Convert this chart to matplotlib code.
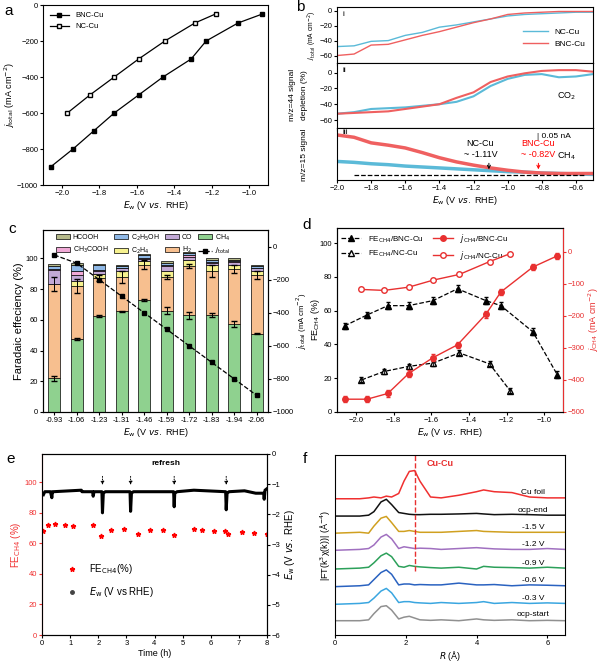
import matplotlib
matplotlib.use("Agg")
import matplotlib.pyplot as plt
import numpy as np

plt.rcParams.update({"font.family": "Liberation Sans", "font.size": 5.5,
                     "xtick.direction": "out", "ytick.direction": "out",
                     "xtick.major.size": 2, "ytick.major.size": 2, "axes.linewidth": 0.8,
                     "xtick.major.pad": 1.5, "ytick.major.pad": 1.5, "axes.labelpad": 1.5})

# ---- data ----
E_bnc = [-2.06, -1.94, -1.83, -1.72, -1.59, -1.46, -1.31, -1.23, -1.06, -0.93]
j_bnc = [-900, -800, -700, -600, -500, -400, -300, -200, -100, -50]
E_nc = [-1.97, -1.85, -1.72, -1.59, -1.45, -1.29, -1.18]
j_nc = [-600, -500, -400, -300, -200, -100, -50]

b_x = [-2.0, -1.9, -1.8, -1.7, -1.6, -1.5, -1.4, -1.3, -1.2, -1.1, -1.0, -0.9, -0.8, -0.7, -0.6, -0.5]
bi_nc = [-48, -47, -41, -40, -33, -29, -22, -19, -15, -11, -7, -5, -4, -3, -2, -2]
bi_bnc = [-60, -58, -46, -45, -39, -33, -28, -22, -16, -11, -5, -3, -2, -1, -1, -1]
bii_nc = [-52, -50, -46, -45, -44, -42, -40, -37, -30, -17, -8, -3, -2, -6, -5, -2]
bii_bnc = [-52, -51, -50, -49, -46, -43, -40, -32, -25, -12, -5, -1, 2, 3, 3, 1]
biii_nc = [0.28, 0.26, 0.23, 0.21, 0.18, 0.16, 0.14, 0.12, 0.10, 0.08, 0.06, 0.05, 0.03, 0.02, 0.01, 0.0]
biii_bnc = [0.85, 0.8, 0.68, 0.63, 0.57, 0.47, 0.36, 0.27, 0.2, 0.14, 0.09, 0.05, 0.03, 0.02, 0.02, 0.02]

c_cats = ["-0.93", "-1.06", "-1.23", "-1.31", "-1.46", "-1.59", "-1.72", "-1.83", "-1.94", "-2.06"]
fe_ch4 = [22, 47.5, 62.5, 65.5, 73, 66, 63, 63, 57.5, 51]
fe_h2 = [61.5, 34.5, 24.5, 22.5, 23, 22, 32, 29, 35.5, 38]
fe_c2h4 = [0, 3, 3, 3.5, 2, 4, 4, 3.5, 3, 3]
fe_co = [9, 4, 2, 2, 1.5, 3, 2, 1.5, 1.5, 1.5]
fe_ch3cooh = [0.5, 3, 0.5, 0.5, 0.5, 0.5, 1, 0.5, 0.5, 0.5]
fe_c2h5oh = [2, 4, 3, 1, 2, 1.5, 1.5, 1.5, 1, 1]
fe_hcooh = [1.5, 1, 1, 1, 1, 1, 1, 1.5, 1, 1]
err_ch4 = [1.5, 0.8, 0.5, 0.5, 0.8, 2.5, 2.2, 1.2, 2, 0.5]
err_h2 = [4.5, 4.5, 2, 4, 3, 1.5, 1.5, 4, 2.5, 2.5]
j_total_c = [-50, -100, -200, -300, -400, -500, -600, -700, -800, -900]

d_fe_bnc = [51, 57.5, 63, 63, 66, 73, 66, 63, 47.5, 22]
d_fe_nc = [19, 24, 27, 29, 35, 28.5, 12.5]
d_j_bnc = [-460, -460, -442, -380, -330, -290, -195, -125, -47, -12]
d_j_nc = [-117, -120, -110, -88, -70, -30, -5]

e_t = [0.05, 0.2, 0.45, 0.8, 1.1, 1.8, 2.1, 2.45, 2.9, 3.4, 3.85, 4.3, 4.7, 5.4, 5.7, 6.1, 6.5, 6.6, 7.1, 7.55, 8.0]
e_fe = [68, 72, 72.5, 72, 71.5, 72, 65, 69, 69.5, 66, 68.5, 68.5, 65.5, 69.5, 68.5, 68, 68, 66, 67.5, 67, 66.5]
e_tw = [0.05, 0.1, 0.3, 0.35, 0.37, 0.4, 1.4, 1.42, 1.8, 1.82, 1.85, 2.13, 2.15, 2.18, 2.25, 3.13, 3.15, 3.18, 3.25,
        4.68, 4.7, 4.72, 4.8, 5.4, 6.53, 6.55, 6.58, 6.65, 7.2, 7.6, 7.88, 7.9, 7.93, 8.0]
e_ew = [-1.35, -1.25, -1.25, -1.45, -1.25, -1.25, -1.2, -1.25, -1.25, -1.4, -1.25, -1.25, -1.95, -1.3, -1.25, -1.25, -1.9, -1.3, -1.25,
        -1.25, -1.75, -1.3, -1.25, -1.2, -1.25, -1.85, -1.3, -1.25, -1.22, -1.3, -1.3, -1.5, -1.2, -1.15]
refresh_t = [2.15, 3.15, 4.7, 6.55]

f_R = [0, 0.7, 0.95, 1.1, 1.3, 1.45, 1.6, 1.8, 1.95, 2.1, 2.25, 2.4, 2.7, 3.0, 3.5, 4.0, 4.2, 4.5, 5.0, 5.5, 6.0, 6.5]
f_labels = ["ocp-start", "-0.3 V", "-0.6 V", "-0.9 V", "-1.2 V", "-1.5 V", "ocp-end", "Cu foil"]
f_colors = ["#909090", "#3aa6e0", "#2a62c0", "#2ca05a", "#a070c0", "#d0a020", "#111111", "#f03030"]
f_base = [0.81, 1.74, 2.74, 3.74, 4.8, 5.77, 6.74, 7.72]
f_curves = [
    [0, 0, 0.05, 0.4, 0.8, 0.85, 0.6, 0.1, 0.2, 0.25, 0.15, 0.05, 0.02, 0.05, 0.0, 0.1, 0.05, 0.02, 0.05, 0.0, 0.02, 0.0],
    [0, 0.05, 0.1, 0.35, 0.75, 0.9, 0.65, 0.1, 0.15, 0.15, 0.1, 0.08, 0.05, 0.1, 0.05, 0.1, 0.15, 0.05, 0.1, 0.05, 0.08, 0.05],
    [0, 0.05, 0.1, 0.4, 0.8, 0.95, 0.7, 0.1, 0.15, 0.15, 0.1, 0.12, 0.1, 0.1, 0.2, 0.1, 0.1, 0.12, 0.05, 0.1, 0.08, 0.05],
    [0, 0.05, 0.1, 0.35, 0.75, 0.9, 0.7, 0.15, 0.1, 0.2, 0.15, 0.12, 0.08, 0.05, 0.1, 0.0, 0.15, 0.1, 0.08, 0.05, 0.1, 0.05],
    [0, 0.05, 0.1, 0.3, 0.75, 0.9, 0.65, 0.1, 0.2, 0.15, 0.1, 0.12, 0.1, 0.05, 0.1, 0.15, 0.12, 0.08, 0.05, 0.05, 0.1, 0.05],
    [0, 0.05, 0.0, 0.4, 0.85, 0.95, 0.6, 0.1, 0.1, 0.15, 0.1, 0.05, 0.05, 0.05, 0.1, 0.15, 0.1, 0.08, 0.05, 0.05, 0.05, 0.05],
    [0, 0.0, 0.05, 0.25, 0.8, 0.95, 0.65, 0.2, 0.15, 0.1, 0.08, 0.08, 0.1, 0.1, 0.12, 0.15, 0.12, 0.08, 0.1, 0.08, 0.05, 0.05],
    [0, 0.0, 0.05, 0.1, 0.05, 0.15, 0.1, 0.3, 1.0, 1.55, 1.6, 1.0, 0.1, 0.05, 0.2, 0.4, 0.5, 0.4, 0.35, 0.1, 0.05, 0.05],
]

fig = plt.figure(figsize=(6.0, 6.66), dpi=100)
W, H = 600, 666
def ax_px(x0, y0, x1, y1):
    return fig.add_axes([x0 / W, 1 - y1 / H, (x1 - x0) / W, (y1 - y0) / H])
def letter(x, y, s):
    fig.text(x / W, 1 - y / H, s, fontsize=11, va="top", ha="left")
LF = 6.5

# ---- a ----
ax = ax_px(43, 5, 268, 185)
ax.plot(E_bnc, j_bnc, "-s", color="k", ms=3.5, lw=0.9, label="BNC-Cu")
ax.plot(E_nc, j_nc, "-s", color="k", ms=3.5, lw=0.9, mfc="white", label="NC-Cu")
ax.set_xlim(-2.1, -0.9); ax.set_ylim(-1000, 0)
ax.set_xticks([-2.0, -1.8, -1.6, -1.4, -1.2, -1.0])
ax.set_yticks(range(-1000, 1, 200))
ax.set_xlabel(r"$E_\mathrm{w}$ (V $vs.$ RHE)", fontsize=LF)
ax.set_ylabel(r"$j_\mathrm{total}$ (mA cm$^{-2}$)", fontsize=LF, labelpad=0)
ax.legend(loc="upper left", frameon=False, fontsize=5.5, handlelength=2.5)
letter(4, 4, "a")

# ---- b ----
ax1 = ax_px(337, 7, 593, 63)
ax2 = ax_px(337, 63, 593, 128)
ax3 = ax_px(337, 128, 593, 180)
blue, red = "#5bbad8", "#ef6060"
ax1.plot(b_x, bi_nc, color=blue, lw=1, label="NC-Cu")
ax1.plot(b_x, bi_bnc, color=red, lw=1, label="BNC-Cu")
ax1.set_ylim(-70, 5); ax1.set_yticks([0, -20, -40, -60])
ax1.legend(loc="center right", frameon=False, fontsize=6, handlelength=3, bbox_to_anchor=(1.0, 0.45))
ax1.set_ylabel(r"$j_\mathrm{total}$ (mA cm$^{-2}$)", fontsize=4.8, labelpad=0)
ax1.text(0.02, 0.92, "i", transform=ax1.transAxes, va="top", fontsize=6)
ax2.plot(b_x, bii_nc, color=blue, lw=1.5)
ax2.plot(b_x, bii_bnc, color=red, lw=1.5)
ax2.set_ylim(-70, 12); ax2.set_yticks([0, -20, -40, -60])
ax2.text(0.02, 0.94, "ii", transform=ax2.transAxes, va="top", fontsize=6)
ax2.text(0.86, 0.45, r"CO$_2$", transform=ax2.transAxes, fontsize=6.5)
ax3.plot(b_x, biii_nc, color=blue, lw=2.5)
ax3.plot(b_x, biii_bnc, color=red, lw=2.5)
ax3.plot([-1.9, -0.55], [-0.02, -0.02], "k--", lw=0.9)
ax3.set_ylim(-0.12, 1.0); ax3.set_yticks([])
ax3.text(0.02, 0.98, "iii", transform=ax3.transAxes, va="top", fontsize=6)
ax3.text(0.78, 0.9, "| 0.05 nA", transform=ax3.transAxes, va="top", fontsize=6)
ax3.text(0.86, 0.42, r"CH$_4$", transform=ax3.transAxes, fontsize=6.5)
ax3.text(-1.16, 0.38, "NC-Cu\n~ -1.11V", ha="center", fontsize=6.5)
ax3.text(-0.82, 0.38, "BNC-Cu\n~ -0.82V", ha="center", fontsize=6.5, color="red")
ax3.annotate("", xy=(-1.11, 0.05), xytext=(-1.11, 0.3), arrowprops=dict(arrowstyle="->", lw=0.7, color="k"))
ax3.annotate("", xy=(-0.82, 0.05), xytext=(-0.82, 0.3), arrowprops=dict(arrowstyle="->", lw=0.7, color="red"))
for a_ in (ax1, ax2, ax3):
    a_.set_xlim(-2.0, -0.5)
for a_ in (ax1, ax2):
    a_.tick_params(labelbottom=False)
ax3.set_xticks([-2.0, -1.8, -1.6, -1.4, -1.2, -1.0, -0.8, -0.6])
ax3.set_xlabel(r"$E_\mathrm{w}$ (V $vs.$ RHE)", fontsize=LF)
fig.text(293 / W, 1 - 95 / H, "m/z=44 signal", rotation=90, va="center", ha="center", fontsize=6)
fig.text(305 / W, 1 - 95 / H, "depletion (%)", rotation=90, va="center", ha="center", fontsize=6)
fig.text(305 / W, 1 - 155 / H, "m/z=15 signal", rotation=90, va="center", ha="center", fontsize=6)
letter(296, 0, "b")

# ---- c ----
ax = ax_px(43, 230, 268, 412)
x = np.arange(len(c_cats))
series = [(fe_ch4, "#8fd18f", r"CH$_4$"), (fe_h2, "#f7bf8f", r"H$_2$"), (fe_c2h4, "#f7f28f", r"C$_2$H$_4$"),
          (fe_co, "#c2a9d6", "CO"), (fe_ch3cooh, "#f0a9d6", r"CH$_3$COOH"), (fe_c2h5oh, "#8fb8e6", r"C$_2$H$_5$OH"),
          (fe_hcooh, "#b5b98a", "HCOOH")]
bottom = np.zeros(len(x))
handles = {}
for vals, col, lab in series:
    h = ax.bar(x, vals, 0.55, bottom=bottom, color=col, edgecolor="k", lw=0.5, label=lab)
    handles[lab] = h
    bottom = bottom + np.array(vals)
ax.errorbar(x, fe_ch4, yerr=err_ch4, fmt="none", ecolor="k", capsize=2, lw=0.7)
ax.errorbar(x, np.array(fe_ch4) + np.array(fe_h2), yerr=err_h2, fmt="none", ecolor="k", capsize=2, lw=0.7)
ax.set_ylim(0, 118.5); ax.set_yticks(range(0, 101, 20)); ax.set_xlim(-0.5, 9.5)
ax.set_xticks(x); ax.set_xticklabels(c_cats)
ax.set_ylabel("Faradaic effeciency (%)", fontsize=8)
ax.set_xlabel(r"$E_\mathrm{w}$ (V $vs.$ RHE)", fontsize=LF)
axr = ax.twinx()
ln, = axr.plot(x, j_total_c, "--s", color="k", ms=3.5, lw=0.9, label=r"$j_\mathrm{total}$")
axr.set_ylim(-1000, 101); axr.set_yticks(range(-1000, 1, 200))
axr.set_ylabel(r"$j_\mathrm{total}$ (mA cm$^{-2}$)", fontsize=5.5, labelpad=0.5)
order = ["HCOOH", r"CH$_3$COOH", r"C$_2$H$_5$OH", r"C$_2$H$_4$", "CO", r"H$_2$", r"CH$_4$"]
hl = [handles[k] for k in order] + [ln]
ax.legend(hl, order + [r"$j_\mathrm{total}$"], loc="upper left", ncol=4, frameon=False, fontsize=5,
          handlelength=2, columnspacing=0.8, handletextpad=0.4, borderaxespad=0.2, bbox_to_anchor=(0.04, 1.01))
letter(8, 222, "c")

# ---- d ----
ax = ax_px(337, 228, 563, 412)
axr = ax.twinx()
l1, = ax.plot(E_bnc, d_fe_bnc, "--^", color="k", ms=4, lw=0.9, label=r"FE$_{\mathrm{CH4}}$/BNC-Cu")
l2, = ax.plot(E_nc, d_fe_nc, "--^", color="k", ms=4, lw=0.9, mfc="white", label=r"FE$_{\mathrm{CH4}}$/NC-Cu")
ax.errorbar(E_bnc, d_fe_bnc, yerr=2, fmt="none", ecolor="k", capsize=1.5, lw=0.6)
ax.errorbar(E_nc, d_fe_nc, yerr=1.5, fmt="none", ecolor="k", capsize=1.5, lw=0.6)
l3, = axr.plot(E_bnc, d_j_bnc, "-o", color="#e83030", ms=4, lw=1, label=r"$j_{\mathrm{CH4}}$/BNC-Cu")
l4, = axr.plot(E_nc, d_j_nc, "-o", color="#e83030", ms=4, lw=1, mfc="white", label=r"$j_{\mathrm{CH4}}$/NC-Cu")
axr.errorbar(E_bnc, d_j_bnc, yerr=10, fmt="none", ecolor="#e83030", capsize=1.5, lw=0.6)
ax.set_xlim(-2.1, -0.9); ax.set_ylim(0, 109); ax.set_yticks(range(0, 101, 20))
ax.set_xticks([-2.0, -1.8, -1.6, -1.4, -1.2, -1.0])
axr.set_ylim(-500, 75); axr.set_yticks(range(-500, 1, 100))
axr.tick_params(axis="y", colors="#e83030"); axr.spines["right"].set_color("#e83030")
axr.set_ylabel(r"$j_{\mathrm{CH4}}$ (mA cm$^{-2}$)", color="#e83030", fontsize=LF)
ax.set_ylabel(r"FE$_{\mathrm{CH4}}$ (%)", fontsize=LF)
ax.yaxis.set_label_coords(-0.065, 0.5)
ax.set_xlabel(r"$E_\mathrm{w}$ (V $vs.$ RHE)", fontsize=LF)
ax.legend([l1, l2, l3, l4], [l.get_label() for l in (l1, l2, l3, l4)], loc="upper left", ncol=2,
          frameon=False, fontsize=5.8, handlelength=2.5, columnspacing=1.2, borderaxespad=0.1)
letter(302, 218, "d")

# ---- e ----
ax = ax_px(42, 454, 267, 635)
axr = ax.twinx()
p1, = ax.plot(e_t, e_fe, "*", color="red", ms=3.5, ls="none", label=r"FE$_{\mathrm{CH4}}$(%)")
axr.plot(e_tw, e_ew, "-", color="k", lw=2.2)
p2, = ax.plot([], [], "o", color="#444", ms=2.5, label=r"$E_\mathrm{w}$ (V vs RHE)")
ax.set_xlim(0, 8); ax.set_ylim(0, 118.6); ax.set_yticks(range(0, 101, 20))
ax.tick_params(axis="y", colors="#f03030"); ax.spines["left"].set_color("#f03030")
ax.set_ylabel(r"FE$_{\mathrm{CH4}}$ (%)", color="#f03030", fontsize=7)
axr.set_ylim(-6, 0); axr.set_yticks(range(-6, 1))
axr.set_ylabel(r"$E_\mathrm{w}$ (V $vs.$ RHE)", fontsize=7)
ax.set_xlabel("Time (h)", fontsize=LF)
for t in refresh_t:
    axr.annotate("", xy=(t, -1.12), xytext=(t, -0.65),
                 arrowprops=dict(arrowstyle="-|>", lw=0.7, ls=":", color="k", mutation_scale=5))
axr.text(4.4, -0.35, "refresh", ha="center", fontsize=6, fontweight="bold")
ax.legend([p1, p2], [p1.get_label(), p2.get_label()], loc="center left", frameon=False, fontsize=7,
          bbox_to_anchor=(0.05, 0.3), labelspacing=0.9)
letter(6, 452, "e")

# ---- f ----
ax = ax_px(335, 455, 565, 635)
for lab, col, base, ys in zip(f_labels, f_colors, f_base, f_curves):
    ax.plot(f_R, np.array(ys) + base, color=col, lw=1.1)
    ax.text(5.6, base + 0.25, lab, ha="center", fontsize=6)
ax.plot([2.25, 2.25], [3.6, 10.2], "--", color="#e83030", lw=1)
ax.text(2.6, 9.6, "Cu-Cu", color="#e83030", fontsize=6.5, fontweight="bold")
ax.set_xlim(0, 6.5); ax.set_ylim(0, 10.2); ax.set_yticks([])
ax.set_xticks([0, 2, 4, 6])
ax.set_xlabel(r"$R$ (Å)", fontsize=LF)
ax.set_ylabel(r"|FT(k$^3$χ(k))| (Å$^{-4}$)", fontsize=LF)
letter(303, 452, "f")

fig.savefig("out.png", dpi=100)
